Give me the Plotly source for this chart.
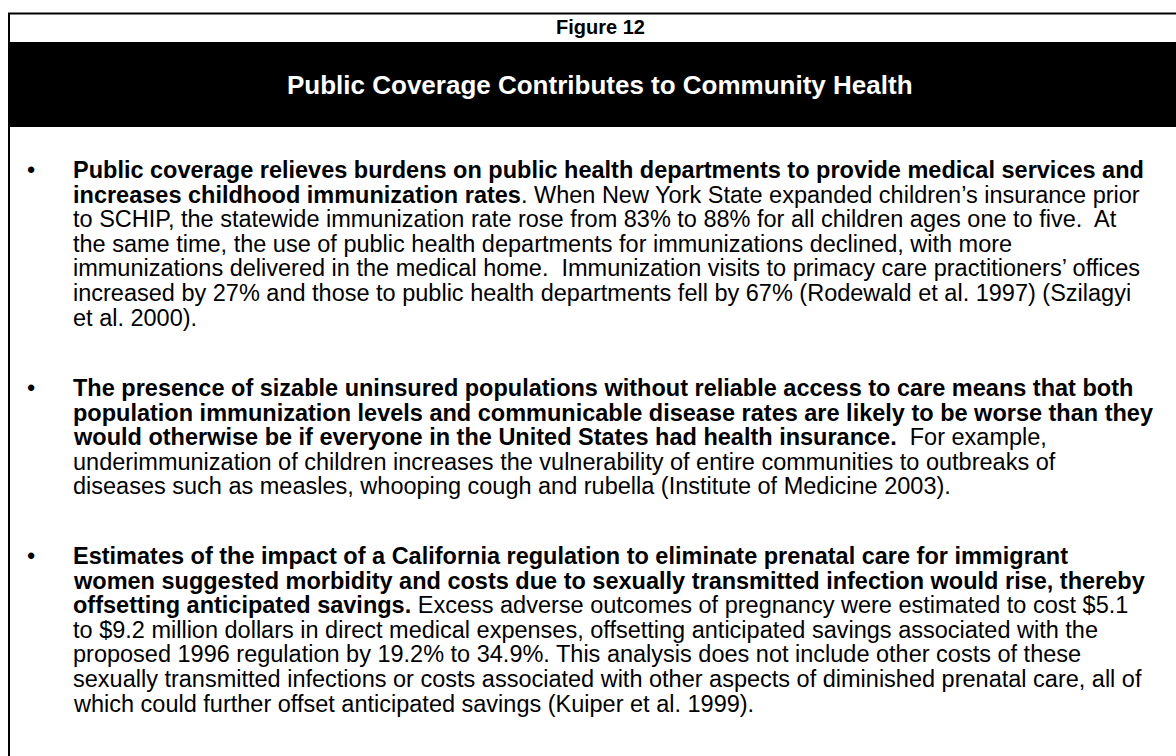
import plotly.graph_objects as go

# ---------------- content ----------------
FIG_LABEL = "Figure 12"
TITLE = "Public Coverage Contributes to Community Health"

PARA_1 = [
    "<b>Public coverage relieves burdens on public health departments to provide medical services and</b>",
    "<b>increases childhood immunization rates</b>. When New York State expanded children’s insurance prior",
    "to SCHIP, the statewide immunization rate rose from 83% to 88% for all children ages one to five.\u00a0 At",
    "the same time, the use of public health departments for immunizations declined, with more",
    "immunizations delivered in the medical home.\u00a0 Immunization visits to primacy care practitioners’ offices",
    "increased by 27% and those to public health departments fell by 67% (Rodewald et al. 1997) (Szilagyi",
    "et al. 2000).",
]
PARA_2 = [
    "<b>The presence of sizable uninsured populations without reliable access to care means that both</b>",
    "<b>population immunization levels and communicable disease rates are likely to be worse than they</b>",
    "<b>would otherwise be if everyone in the United States had health insurance.</b>\u00a0 For example,",
    "underimmunization of children increases the vulnerability of entire communities to outbreaks of",
    "diseases such as measles, whooping cough and rubella (Institute of Medicine 2003).",
]
PARA_3 = [
    "<b>Estimates of the impact of a California regulation to eliminate prenatal care for immigrant</b>",
    "<b>women suggested morbidity and costs due to sexually transmitted infection would rise, thereby</b>",
    "<b>offsetting anticipated savings.</b> Excess adverse outcomes of pregnancy were estimated to cost $5.1",
    "to $9.2 million dollars in direct medical expenses, offsetting anticipated savings associated with the",
    "proposed 1996 regulation by 19.2% to 34.9%. This analysis does not include other costs of these",
    "sexually transmitted infections or costs associated with other aspects of diminished prenatal care, all of",
    "which could further offset anticipated savings (Kuiper et al. 1999).",
]
PARAGRAPHS = [PARA_1, PARA_2, PARA_3]

# ---------------- layout ----------------
W, H = 1176, 756
FONT = "Liberation Sans, Arial, sans-serif"
BODY_SIZE = 23.5
PARA_START_Y = [170, 388, 556]
LINE_STEP = 24.6
TEXT_X = 71
BULLET_X = 31

fig = go.Figure()
fig.update_layout(
    width=W, height=H,
    margin=dict(l=0, r=0, t=0, b=0),
    paper_bgcolor="white", plot_bgcolor="white",
    xaxis=dict(range=[0, W], visible=False, fixedrange=True),
    yaxis=dict(range=[H, 0], visible=False, fixedrange=True),
    showlegend=False,
    font=dict(family=FONT, color="black"),
)

shapes = [
    dict(type="line", xref="x", yref="y", x0=8, x1=W, y0=13.5, y1=13.5,
         line=dict(color="black", width=2)),
    dict(type="line", xref="x", yref="y", x0=9, x1=9, y0=13, y1=H,
         line=dict(color="black", width=2)),
    dict(type="rect", xref="x", yref="y", x0=8, x1=W, y0=42, y1=127,
         fillcolor="black", line=dict(width=0)),
]
fig.update_layout(shapes=shapes)

ann = []
ann.append(dict(x=600, y=27, xref="x", yref="y", text="<b>" + FIG_LABEL + "</b>",
                showarrow=False, xanchor="center", yanchor="middle",
                font=dict(family=FONT, size=20, color="black")))
ann.append(dict(x=600, y=85, xref="x", yref="y", text="<b>" + TITLE + "</b>",
                showarrow=False, xanchor="center", yanchor="middle",
                font=dict(family=FONT, size=26, color="white")))

for para, y0 in zip(PARAGRAPHS, PARA_START_Y):
    ann.append(dict(x=BULLET_X, y=y0, xref="x", yref="y", text="•",
                    showarrow=False, xanchor="center", yanchor="middle",
                    font=dict(family=FONT, size=BODY_SIZE, color="black")))
    for i, line in enumerate(para):
        ann.append(dict(x=TEXT_X, y=y0 + i * LINE_STEP, xref="x", yref="y", text=line,
                        showarrow=False, xanchor="left", yanchor="middle", align="left",
                        font=dict(family=FONT, size=BODY_SIZE, color="black")))
fig.update_layout(annotations=ann)

fig.write_html("out.html", config={"displayModeBar": False, "staticPlot": True},
               post_script="document.body.style.margin='0';document.body.style.overflow='hidden';")
